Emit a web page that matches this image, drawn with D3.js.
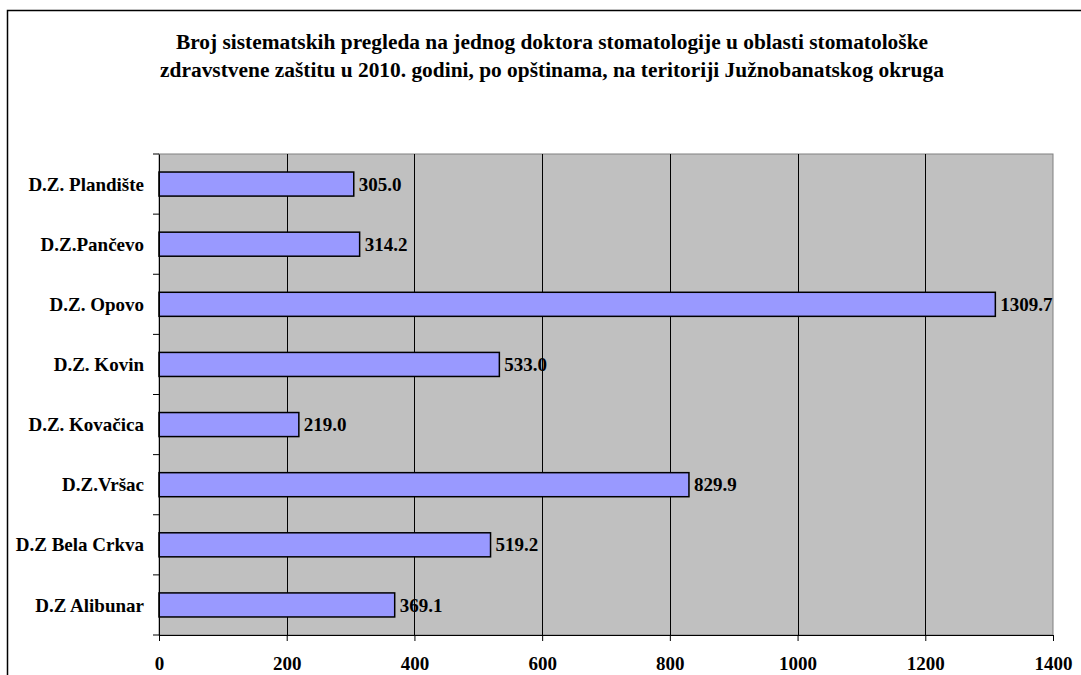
<!DOCTYPE html>
<html>
<head>
<meta charset="UTF-8">
<script src="https://d3js.org/d3.v7.min.js"></script>
<style>
  body { margin: 0; background: #fff; }
  svg text { font-family: "Liberation Serif", "Times New Roman", serif; font-weight: bold; fill: #000; }
</style>
</head>
<body>
<div id="chart"></div>
<script>
const categories = ["D.Z. Plandište", "D.Z.Pančevo", "D.Z. Opovo", "D.Z. Kovin",
                    "D.Z. Kovačica", "D.Z.Vršac", "D.Z Bela Crkva", "D.Z Alibunar"];
const values = [305.0, 314.2, 1309.7, 533.0, 219.0, 829.9, 519.2, 369.1];
const xTicks = [0, 200, 400, 600, 800, 1000, 1200, 1400];
const titleLines = [
  "Broj sistematskih pregleda na jednog doktora stomatologije u oblasti stomatološke",
  "zdravstvene zaštitu u 2010. godini, po opštinama, na teritoriji Južnobanatskog okruga"
];

const W = 1081, H = 675;
const margin = {top: 154, left: 159};
const width = 1053 - margin.left, height = 635 - margin.top;

const svg = d3.select("#chart").append("svg")
  .attr("width", W).attr("height", H);

// outer frame
svg.append("rect")
  .attr("x", 7.5).attr("y", 10.5)
  .attr("width", W + 20).attr("height", H + 20)
  .attr("fill", "none").attr("stroke", "#000").attr("stroke-width", 1.5);

svg.append("text")
  .attr("x", 552).attr("y", 49)
  .attr("text-anchor", "middle")
  .style("font-size", "21.4px")
  .selectAll("tspan").data(titleLines).enter().append("tspan")
  .attr("x", 552).attr("dy", (d, i) => i === 0 ? 0 : 28)
  .text(d => d);

const g = svg.append("g").attr("transform", `translate(${margin.left},${margin.top})`);

const x = d3.scaleLinear().domain([0, 1400]).range([0, width]);
const y = d3.scaleBand().domain(categories).range([0, height]).paddingInner(0.6).paddingOuter(0.3);
const yb = d3.scaleBand().domain(categories).range([0, height]);

g.append("rect")
  .attr("width", width).attr("height", height)
  .attr("fill", "#c0c0c0").attr("stroke", "#808080").attr("stroke-width", 1);

g.append("g")
  .selectAll("line").data(xTicks.slice(1, -1)).enter().append("line")
  .attr("x1", d => Math.round(x(d)) + 0.5).attr("x2", d => Math.round(x(d)) + 0.5)
  .attr("y1", 0).attr("y2", height)
  .attr("stroke", "#000").attr("stroke-width", 1);

g.selectAll(".bar").data(values).enter().append("rect")
  .attr("class", "bar")
  .attr("x", 0)
  .attr("y", (d, i) => y(categories[i]))
  .attr("width", d => x(d))
  .attr("height", y.bandwidth())
  .attr("fill", "#9999ff").attr("stroke", "#000").attr("stroke-width", 1.5);

g.selectAll(".val").data(values).enter().append("text")
  .attr("x", d => x(d) + 5)
  .attr("y", (d, i) => y(categories[i]) + y.bandwidth() / 2)
  .attr("dy", "0.35em")
  .style("font-size", "19px")
  .text(d => d.toFixed(1));

// y axis
const yAxis = g.append("g")
  .call(d3.axisLeft(yb).tickValues([]).tickSizeOuter(0));
yAxis.select(".domain").attr("stroke", "#000");
g.append("g").selectAll("line").data(d3.range(categories.length + 1)).enter().append("line")
  .attr("x1", -6).attr("x2", 0)
  .attr("y1", d => d * yb.step()).attr("y2", d => d * yb.step())
  .attr("stroke", "#000");
g.selectAll(".cat").data(categories).enter().append("text")
  .attr("x", -15)
  .attr("y", d => yb(d) + yb.bandwidth() / 2)
  .attr("dy", "0.35em")
  .attr("text-anchor", "end")
  .style("font-size", "19px")
  .text(d => d);

// x axis
const xAxis = g.append("g").attr("transform", `translate(0,${height})`)
  .call(d3.axisBottom(x).tickValues(xTicks).tickFormat(d3.format("d"))
    .tickSize(6).tickSizeOuter(0).tickPadding(16));
xAxis.select(".domain").attr("stroke", "#000");
xAxis.selectAll("line").attr("stroke", "#000");
xAxis.selectAll("text").style("font-size", "19px");
</script>
</body>
</html>
